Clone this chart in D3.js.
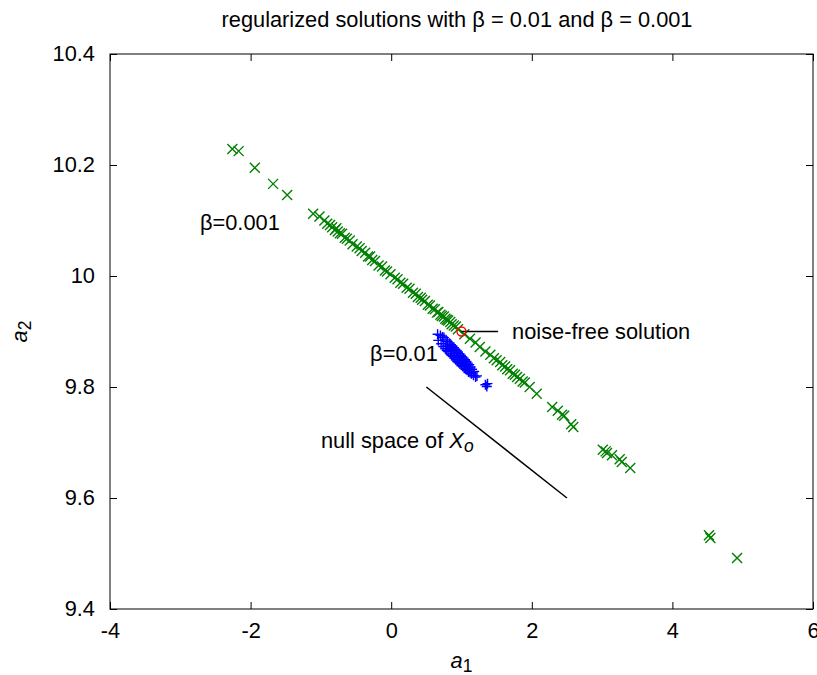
<!DOCTYPE html>
<html>
<head>
<meta charset="utf-8">
<script src="https://cdn.jsdelivr.net/npm/d3@7"></script>
<style>
  body { margin: 0; background: #fff; }
  svg text { font-family: "Liberation Sans", Arial, Helvetica, sans-serif; fill: #000; }
</style>
</head>
<body>
<svg></svg>
<script>
// beta = 0.001 solutions (green x)
let greenA1 = [-2.26, -2.17, -1.94, -1.68, -1.48, -1.11, -1.02, -0.95, -0.91, -0.87, -0.84, -0.80, -0.78, -0.76, -0.73,
  -0.70, -0.66, -0.63, -0.59, -0.55, -0.49, -0.45, -0.42, -0.37, -0.33, -0.30, -0.27, -0.23, -0.18, -0.13,
  -0.09, -0.06, -0.01, 0.05, 0.09, 0.13, 0.17, 0.22, 0.26, 0.31, 0.35, 0.38, 0.42, 0.44, 0.48,
  0.52, 0.55, 0.59, 0.62, 0.65, 0.67, 0.70, 0.72, 0.75, 0.77, 0.79, 0.81, 0.84, 0.86, 0.89,
  0.92, 0.95, 1.04, 1.12, 1.20, 1.26, 1.34, 1.41, 1.46, 1.50, 1.55, 1.58, 1.62, 1.65, 1.69,
  1.73, 1.76, 1.79, 1.83, 1.87, 1.90, 1.97, 2.07, 2.29, 2.37, 2.43, 2.46, 2.56, 2.59, 3.01,
  3.05, 3.07, 3.14, 3.25, 3.28, 3.40, 4.52, 4.54, 4.92]
let greenA2 = [10.229, 10.225, 10.195, 10.166, 10.146, 10.112, 10.107, 10.100, 10.094, 10.092, 10.088, 10.083, 10.086, 10.080, 10.077,
  10.076, 10.069, 10.067, 10.064, 10.057, 10.053, 10.050, 10.045, 10.042, 10.035, 10.035, 10.029, 10.027, 10.019, 10.017,
  10.010, 10.008, 10.003, 9.997, 9.994, 9.988, 9.986, 9.979, 9.977, 9.970, 9.968, 9.962, 9.961, 9.957, 9.955,
  9.948, 9.947, 9.941, 9.940, 9.934, 9.935, 9.930, 9.928, 9.927, 9.923, 9.921, 9.920, 9.917, 9.913, 9.911,
  9.909, 9.904, 9.895, 9.887, 9.880, 9.872, 9.864, 9.858, 9.852, 9.848, 9.845, 9.839, 9.837, 9.832, 9.830,
  9.824, 9.822, 9.818, 9.815, 9.810, 9.808, 9.800, 9.788, 9.764, 9.757, 9.750, 9.748, 9.733, 9.728, 9.687,
  9.684, 9.681, 9.677, 9.670, 9.665, 9.654, 9.533, 9.528, 9.492]

// beta = 0.01 solutions (blue +)
let blueA1 = [0.66, 0.67, 0.70, 0.71, 0.73, 0.74, 0.75, 0.77, 0.78, 0.79, 0.80, 0.81, 0.83, 0.84, 0.85,
  0.86, 0.87, 0.88, 0.89, 0.90, 0.91, 0.92, 0.93, 0.94, 0.95, 0.96, 0.97, 0.98, 0.99, 1.00,
  1.01, 1.02, 1.03, 1.04, 1.05, 1.06, 1.07, 1.08, 1.09, 1.10, 1.11, 1.12, 1.13, 1.14, 1.15,
  1.17, 1.18, 1.20, 1.22, 0.80, 0.85, 0.90, 0.95, 1.00, 1.05, 1.10, 1.34, 1.37, 1.36]
let blueA2 = [9.895, 9.884, 9.893, 9.878, 9.890, 9.873, 9.889, 9.869, 9.885, 9.866, 9.882, 9.864, 9.879, 9.860, 9.876,
  9.857, 9.873, 9.855, 9.871, 9.852, 9.868, 9.849, 9.866, 9.846, 9.863, 9.844, 9.860, 9.842, 9.857, 9.839,
  9.854, 9.837, 9.852, 9.834, 9.849, 9.832, 9.846, 9.830, 9.843, 9.827, 9.840, 9.826, 9.836, 9.824, 9.832,
  9.821, 9.828, 9.818, 9.820, 9.874, 9.867, 9.861, 9.854, 9.847, 9.841, 9.834, 9.804, 9.806, 9.801]

// noise-free solution and null space segment
let noiseFree = [1.0, 9.9]
let nullSpaceA1 = [0.5, 2.5]
let nullSpaceA2 = [9.8, 9.6]

// ticks
let xTicks = [-4, -2, 0, 2, 4, 6]
let xTickLabels = ['-4', '-2', '0', '2', '4', '6']
let yTicks = [9.4, 9.6, 9.8, 10, 10.2, 10.4]
let yTickLabels = ['9.4', '9.6', '9.8', '10', '10.2', '10.4']

let width = 817
let height = 675
let plotLeft = 110, plotRight = 813, plotTop = 54, plotBottom = 609
let fontSize = 21.8

let svg = d3.select('svg').attr('width', width).attr('height', height)

let xScale = d3.scaleLinear().domain([-4, 6]).range([plotLeft, plotRight])
let yScale = d3.scaleLinear().domain([9.4, 10.4]).range([plotBottom, plotTop])

// axes with inward ticks
let xAxis = d3.axisBottom(xScale).tickValues(xTicks)
  .tickFormat((d, i) => xTickLabels[i]).tickSizeInner(-7).tickSizeOuter(0).tickPadding(14)
let xAxisTop = d3.axisTop(xScale).tickValues(xTicks).tickFormat('').tickSizeInner(-7).tickSizeOuter(0)
let yAxis = d3.axisLeft(yScale).tickValues(yTicks)
  .tickFormat((d, i) => yTickLabels[i]).tickSizeInner(-7).tickSizeOuter(0).tickPadding(15)
let yAxisRight = d3.axisRight(yScale).tickValues(yTicks).tickFormat('').tickSizeInner(-7).tickSizeOuter(0)

let styleAxis = (g) => {
  g.select('.domain').remove()
  g.selectAll('line').attr('stroke', '#000')
  g.selectAll('text').attr('font-size', fontSize).attr('font-family', null)
}

svg.append('g').attr('transform', 'translate(0,' + plotBottom + ')').call(xAxis).call(styleAxis)
svg.append('g').attr('transform', 'translate(0,' + plotTop + ')').call(xAxisTop).call(styleAxis)
svg.append('g').attr('transform', 'translate(' + plotLeft + ',0)').call(yAxis).call(styleAxis)
svg.append('g').attr('transform', 'translate(' + plotRight + ',0)').call(yAxisRight).call(styleAxis)

svg.append('rect')
  .attr('x', plotLeft).attr('y', plotTop)
  .attr('width', plotRight - plotLeft).attr('height', plotBottom - plotTop)
  .attr('fill', 'none').attr('stroke', '#000').attr('stroke-width', 1)

// green x markers
let greenData = greenA1.map((a, i) => [a, greenA2[i]])
svg.append('g').selectAll('path')
  .data(greenData)
  .enter()
  .append('path')
  .attr('transform', (d) => 'translate(' + xScale(d[0]) + ',' + yScale(d[1]) + ')')
  .attr('d', 'M-5,-5L5,5M-5,5L5,-5')
  .attr('stroke', '#008000')
  .attr('stroke-width', 1.4)
  .attr('fill', 'none')

// blue + markers
let blueData = blueA1.map((a, i) => [a, blueA2[i]])
svg.append('g').selectAll('path')
  .data(blueData)
  .enter()
  .append('path')
  .attr('transform', (d) => 'translate(' + xScale(d[0]) + ',' + yScale(d[1]) + ')')
  .attr('d', 'M-5,0L5,0M0,-5L0,5')
  .attr('stroke', '#0000ff')
  .attr('stroke-width', 1.4)
  .attr('fill', 'none')

// noise-free solution marker and pointer
svg.append('line')
  .attr('x1', xScale(noiseFree[0])).attr('y1', yScale(noiseFree[1]))
  .attr('x2', xScale(1.52)).attr('y2', yScale(noiseFree[1]))
  .attr('stroke', '#000').attr('stroke-width', 1.3)
svg.append('circle')
  .attr('cx', xScale(noiseFree[0])).attr('cy', yScale(noiseFree[1]))
  .attr('r', 4.5)
  .attr('fill', 'none').attr('stroke', '#ff0000').attr('stroke-width', 1.4)

// null space direction
svg.append('line')
  .attr('x1', xScale(nullSpaceA1[0])).attr('y1', yScale(nullSpaceA2[0]))
  .attr('x2', xScale(nullSpaceA1[1])).attr('y2', yScale(nullSpaceA2[1]))
  .attr('stroke', '#000').attr('stroke-width', 1.5)

// labels
let addLabel = (a1, a2, parts) => {
  let t = svg.append('text')
    .attr('x', xScale(a1)).attr('y', yScale(a2))
    .attr('dy', '0.35em')
    .attr('font-size', fontSize)
  parts.forEach((p) => {
    let s = t.append('tspan').text(p.text)
    if (p.italic) s.attr('font-style', 'italic')
    if (p.sub) s.attr('baseline-shift', '-25%').attr('font-size', fontSize * 0.8)
  })
  return t
}

addLabel(-2.72, 10.097, [{ text: 'β=0.001' }])
addLabel(-0.30, 9.86, [{ text: 'β=0.01' }])
addLabel(1.72, 9.9, [{ text: 'noise-free solution' }])
addLabel(-1.0, 9.703, [{ text: 'null space of ' }, { text: 'X', italic: true }, { text: 'o', italic: true, sub: true }])

// title
svg.append('text')
  .attr('x', 457)
  .attr('y', 27)
  .attr('text-anchor', 'middle')
  .attr('font-size', fontSize)
  .text('regularized solutions with β = 0.01 and β = 0.001')

// axis labels
let xl = svg.append('text')
  .attr('x', (plotLeft + plotRight) / 2).attr('y', 668)
  .attr('text-anchor', 'middle')
  .attr('font-size', fontSize)
xl.append('tspan').attr('font-style', 'italic').text('a')
xl.append('tspan').attr('font-size', fontSize * 0.8).attr('baseline-shift', '-25%').text('1')

let yl = svg.append('text')
  .attr('transform', 'translate(27,' + ((plotTop + plotBottom) / 2) + ') rotate(-90)')
  .attr('text-anchor', 'middle')
  .attr('font-size', fontSize)
yl.append('tspan').attr('font-style', 'italic').text('a')
yl.append('tspan').attr('font-size', fontSize * 0.8).attr('baseline-shift', '-25%').text('2')
</script>
</body>
</html>
